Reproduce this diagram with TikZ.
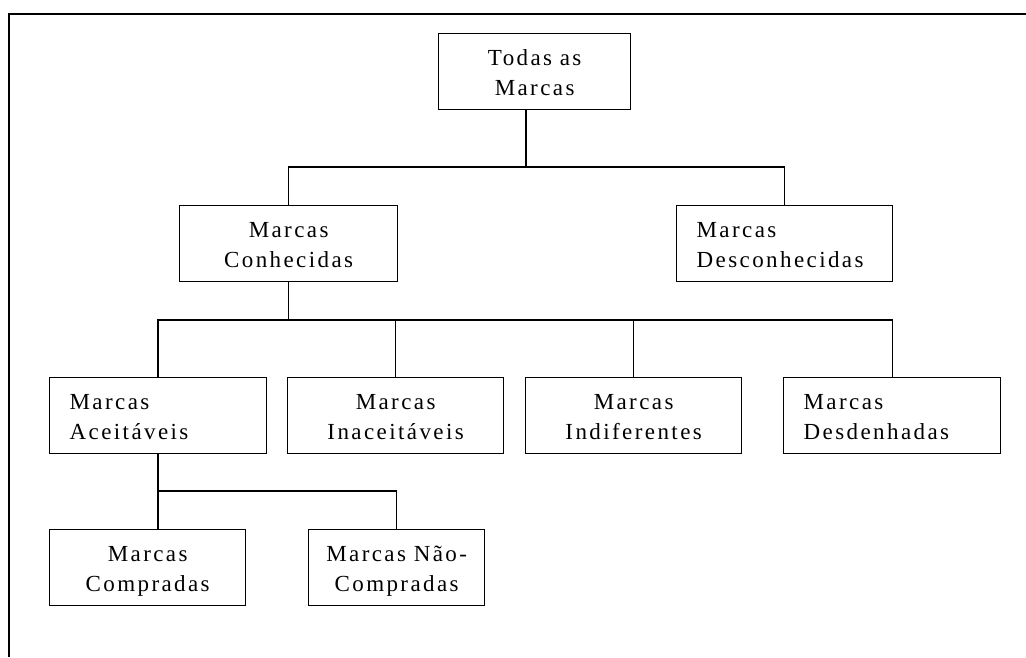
\documentclass[tikz,border=0pt]{standalone}
\usepackage{fontspec}
\setmainfont{Liberation Serif}[LetterSpace=10.5]
\begin{document}
\begin{tikzpicture}[x=1pt,y=-1pt,
  box/.style={draw, line width=1.3pt, anchor=north west, minimum height=76pt,
    inner xsep=20pt, inner ysep=0pt, text height=32pt, text depth=44pt,
    font=\fontsize{23}{30}\selectfont},
  link/.style={line width=1.3pt}]
\useasboundingbox (0,0) rectangle (1026,657);
\draw[line width=2pt] (9,657) -- (9,14) -- (1030,14);
% nodes
\node[box, minimum width=192pt, text width=152pt, align=center] (todas) at (438,33) {Todas as\\Marcas};
\node[box, minimum width=218pt, text width=178pt, align=center] (conh) at (179,205) {Marcas\\Conhecidas};
\node[box, minimum width=216pt, text width=176pt, align=left] (desc) at (676,205) {Marcas\\Desconhecidas};
\node[box, minimum width=217pt, text width=177pt, align=left] (acei) at (49,377) {Marcas\\Aceitáveis};
\node[box, minimum width=216pt, text width=176pt, align=center] (inac) at (287,377) {Marcas\\Inaceitáveis};
\node[box, minimum width=216pt, text width=176pt, align=center] (indi) at (525,377) {Marcas\\Indiferentes};
\node[box, minimum width=217pt, text width=177pt, align=left] (desd) at (783,377) {Marcas\\Desdenhadas};
\node[box, minimum width=196pt, text width=156pt, align=center] (comp) at (49,529) {Marcas\\Compradas};
\node[box, minimum width=176pt, inner xsep=2pt, text width=172pt, align=center] (naoc) at (308,529) {Marcas Não-\\Compradas};
% bus coordinates
\coordinate (bus1) at (526,167);
\coordinate (bus2) at (158,320);
\coordinate (bus3) at (158,491);
\coordinate (t1) at (526,110);
\coordinate (a1) at (158,453);
% connectors
\draw[link] (t1) -- (bus1);
\draw[link] (conh.north) -- (conh.north |- bus1) -- (desc.north |- bus1) -- (desc.north);
\draw[link] (conh.south) -- (conh.south |- bus2);
\draw[link] (acei.north -| bus2) -- (bus2) -- (desd.north |- bus2) -- (desd.north);
\draw[link] (inac.north) -- (inac.north |- bus2);
\draw[link] (indi.north) -- (indi.north |- bus2);
\draw[link] (a1) -- (bus3) -- (naoc.north |- bus3) -- (naoc.north);
\draw[link] (bus3) -- (comp.north -| bus3);
\end{tikzpicture}
\end{document}
